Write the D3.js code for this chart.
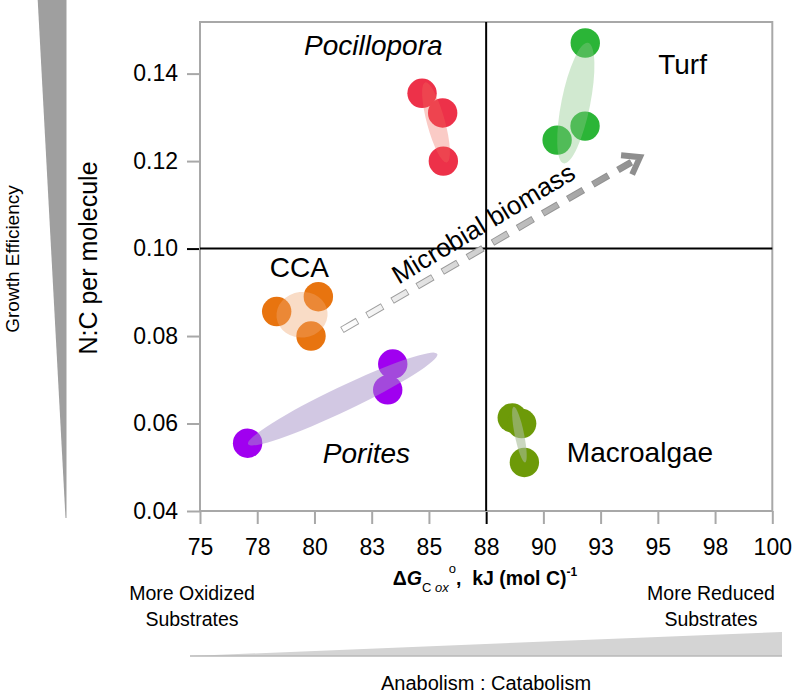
<!DOCTYPE html>
<html><head><meta charset="utf-8">
<script src="https://cdn.jsdelivr.net/npm/d3@7"></script>
<style>
body{margin:0;background:#fff}
text{font-family:"Liberation Sans",Arial,Helvetica,sans-serif;fill:#000}
</style>
</head><body>
<svg id="chart" width="794" height="695"></svg>
<script>
// ---------------- data ----------------
const groupNames  = ["Pocillopora", "Turf", "CCA", "Porites", "Macroalgae"];
const groupItalic = [true, false, false, true, false];
const groupX = [
  [84.70, 85.60, 85.63],
  [91.83, 91.82, 90.60],
  [78.35, 80.17, 79.85],
  [83.42, 83.20, 77.08],
  [88.64, 89.05, 89.17]
];
const groupY = [
  [0.1355, 0.1310, 0.1200],
  [0.1470, 0.1280, 0.1248],
  [0.0856, 0.0890, 0.0800],
  [0.0736, 0.0677, 0.0555],
  [0.0613, 0.0600, 0.0511]
];
const labelX = [82.57, 96.08, 79.34, 82.27, 94.22];
const labelY = [0.1442, 0.1400, 0.0936, 0.0509, 0.0513];
const pointColors   = ["#ed3149", "#2bb537", "#e8740f", "#a000f0", "#6d9a08"];
const ellipseColors = ["#f06a5c", "#8cc88a", "#f0a870", "#a592c8", "#a8bc98"];
const ellipseOpacity = [0.35, 0.4, 0.4, 0.5, 0.6];

const xTicks = [75, 77.5, 80, 82.5, 85, 87.5, 90, 92.5, 95, 97.5, 100];
const xTickLabels = ["75", "78", "80", "83", "85", "88", "90", "93", "95", "98", "100"];
const yTicks = [0.04, 0.06, 0.08, 0.10, 0.12, 0.14];
const yTickLabels = ["0.04", "0.06", "0.08", "0.10", "0.12", "0.14"];
const xDomain = [75, 100];
const yDomain = [0.04, 0.1518];
const xCross = 87.5, yCross = 0.10;

const arrowFrom = [81.20, 0.0814];
const arrowTo   = [94.22, 0.1209];
const arrowLabel = "Microbial biomass";
const arrowLabelPos = [87.58, 0.1040];

// ---------------- layout ----------------
const svg = d3.select("#chart");
const L = 200, R = 772.3, T = 22, B = 511;
const x = d3.scaleLinear().domain(xDomain).range([L, R]);
const y = d3.scaleLinear().domain(yDomain).range([B, T]);
const tickLen = 13;

// left wedge (Growth Efficiency)
svg.append("path").attr("d", "M37.7,0 L66.5,0 L66.5,518 L65.5,518 Z").attr("fill", "#9f9f9f");
svg.append("text").attr("transform", "translate(19,259) rotate(-90)")
  .attr("text-anchor", "middle").style("font-size", "19px").text("Growth Efficiency");

// bottom wedge (Anabolism : Catabolism)
svg.append("path").attr("d", "M190,656 L782,632 L782,656 Z").attr("fill", "#d4d4d4");
svg.append("line").attr("x1", 190).attr("x2", 782).attr("y1", 656).attr("y2", 656)
  .attr("stroke", "#b8b8b8").attr("stroke-width", 1.5);
svg.append("text").attr("x", 486).attr("y", 690).attr("text-anchor", "middle")
  .style("font-size", "20px").text("Anabolism : Catabolism");

// substrates
[["More Oxidized", "Substrates", 192], ["More Reduced", "Substrates", 711]].forEach(d => {
  const t = svg.append("text").attr("text-anchor", "middle").style("font-size", "19.5px");
  t.append("tspan").attr("x", d[2]).attr("y", 600).text(d[0]);
  t.append("tspan").attr("x", d[2]).attr("y", 626).text(d[1]);
});

// axes
const gx = svg.append("g").attr("transform", `translate(0,${B})`)
  .call(d3.axisBottom(x).tickValues(xTicks).tickFormat((d, i) => xTickLabels[i])
    .tickSize(tickLen).tickPadding(15));
const gy = svg.append("g").attr("transform", `translate(${L},0)`)
  .call(d3.axisLeft(y).tickValues(yTicks).tickFormat((d, i) => yTickLabels[i])
    .tickSize(tickLen).tickPadding(9));
[gx, gy].forEach(g => {
  g.select(".domain").remove();
  g.selectAll(".tick line").attr("stroke", "#a8a8a8").attr("stroke-width", 2);
  g.selectAll(".tick text").style("font-size", "23px").attr("fill", "#000");
});
gy.selectAll(".tick").filter(d => d === yCross).select("line").attr("stroke", "#000");
gx.selectAll(".tick").filter(d => d === xCross).select("line").attr("stroke", "#000");

// frame
svg.append("rect").attr("x", L).attr("y", T).attr("width", R - L).attr("height", B - T)
  .attr("fill", "none").attr("stroke", "#a8a8a8").attr("stroke-width", 2);

// quadrant lines
svg.append("line").attr("x1", x(xCross)).attr("x2", x(xCross)).attr("y1", T).attr("y2", B)
  .attr("stroke", "#000").attr("stroke-width", 2);
svg.append("line").attr("x1", L).attr("x2", R).attr("y1", y(yCross)).attr("y2", y(yCross))
  .attr("stroke", "#000").attr("stroke-width", 2);

// axis titles
svg.append("text").attr("transform", "translate(97,258) rotate(-90)")
  .attr("text-anchor", "middle").style("font-size", "25px").text("N:C per molecule");
const xt = svg.append("text").attr("x", 485).attr("y", 585).attr("text-anchor", "middle")
  .style("font-size", "19.5px").style("font-weight", "bold");
xt.append("tspan").text("Δ");
xt.append("tspan").style("font-style", "italic").text("G");
xt.append("tspan").attr("dy", 7).style("font-size", "13px").style("font-weight", "normal").text("C ");
xt.append("tspan").style("font-size", "13px").style("font-weight", "normal").style("font-style", "italic").text("ox");
xt.append("tspan").attr("dy", -19).style("font-size", "13px").style("font-weight", "normal").text("o");
xt.append("tspan").attr("dy", 12).text(",\u00a0\u00a0kJ (mol C)");
xt.append("tspan").attr("dy", -9).style("font-size", "12px").text("-1");

// microbial biomass arrow
const x0 = x(arrowFrom[0]), y0 = y(arrowFrom[1]), x1 = x(arrowTo[0]), y1 = y(arrowTo[1]);
const ang = Math.atan2(y1 - y0, x1 - x0);
const defs = svg.append("defs");
const gradOuter = defs.append("linearGradient").attr("id", "gOuter").attr("gradientUnits", "userSpaceOnUse")
  .attr("x1", x0).attr("y1", y0).attr("x2", x1).attr("y2", y1);
gradOuter.append("stop").attr("offset", 0).attr("stop-color", "#a0a0a0");
gradOuter.append("stop").attr("offset", 1).attr("stop-color", "#8e8e8e");
const gradInner = defs.append("linearGradient").attr("id", "gInner").attr("gradientUnits", "userSpaceOnUse")
  .attr("x1", x0).attr("y1", y0).attr("x2", x1).attr("y2", y1);
gradInner.append("stop").attr("offset", 0).attr("stop-color", "#ffffff");
gradInner.append("stop").attr("offset", 0.45).attr("stop-color", "#d0d0d0");
gradInner.append("stop").attr("offset", 1).attr("stop-color", "#8e8e8e");
const shaftEnd = [x1 - 10 * Math.cos(ang), y1 - 10 * Math.sin(ang)];
svg.append("line").attr("x1", x0).attr("y1", y0).attr("x2", shaftEnd[0]).attr("y2", shaftEnd[1])
  .attr("stroke", "url(#gOuter)").attr("stroke-width", 7).attr("stroke-dasharray", "18 11");
svg.append("line").attr("x1", x0 + 0.8 * Math.cos(ang)).attr("y1", y0 + 0.8 * Math.sin(ang))
  .attr("x2", shaftEnd[0]).attr("y2", shaftEnd[1])
  .attr("stroke", "url(#gInner)").attr("stroke-width", 5).attr("stroke-dasharray", "16.4 12.6");
const armLen = 19, armAng = 0.62;
const a1 = [x1 - armLen * Math.cos(ang - armAng), y1 - armLen * Math.sin(ang - armAng)];
const a2 = [x1 - armLen * Math.cos(ang + armAng), y1 - armLen * Math.sin(ang + armAng)];
svg.append("path").attr("d", `M${a1[0]},${a1[1]} L${x1},${y1} L${a2[0]},${a2[1]}`)
  .attr("fill", "none").attr("stroke", "#8e8e8e").attr("stroke-width", 6).attr("stroke-linejoin", "miter");
svg.append("text")
  .attr("transform", `translate(${x(arrowLabelPos[0])},${y(arrowLabelPos[1])}) rotate(${-31})`)
  .attr("text-anchor", "middle").style("font-size", "26px").text(arrowLabel);

// points and ellipses
const kSD = 1.15;
function ellipseOf(xs, ys) {
  const px = xs.map(v => x(v)), py = ys.map(v => y(v));
  const n = px.length, mx = d3.mean(px), my = d3.mean(py);
  let sxx = 0, syy = 0, sxy = 0;
  for (let i = 0; i < n; i++) {
    sxx += (px[i] - mx) ** 2; syy += (py[i] - my) ** 2; sxy += (px[i] - mx) * (py[i] - my);
  }
  sxx /= n - 1; syy /= n - 1; sxy /= n - 1;
  const tr = sxx + syy, det = sxx * syy - sxy * sxy;
  const disc = Math.sqrt(Math.max(0, tr * tr / 4 - det));
  const l1 = tr / 2 + disc, l2 = Math.max(tr / 2 - disc, 0);
  const theta = Math.atan2(l1 - sxx, sxy) * 180 / Math.PI;
  return {cx: mx, cy: my, rx: kSD * Math.sqrt(l1), ry: kSD * Math.sqrt(l2), theta};
}
groupNames.forEach((name, gi) => {
  const g = svg.append("g");
  g.selectAll("circle").data(groupX[gi].map((v, i) => [v, groupY[gi][i]])).join("circle")
    .attr("cx", d => x(d[0])).attr("cy", d => y(d[1])).attr("r", 14.7)
    .attr("fill", pointColors[gi]);
  const e = ellipseOf(groupX[gi], groupY[gi]);
  g.append("ellipse").attr("cx", 0).attr("cy", 0).attr("rx", e.rx).attr("ry", e.ry)
    .attr("transform", `translate(${e.cx},${e.cy}) rotate(${e.theta})`)
    .attr("fill", ellipseColors[gi]).attr("fill-opacity", ellipseOpacity[gi]);
  svg.append("text").attr("x", x(labelX[gi])).attr("y", y(labelY[gi]))
    .attr("text-anchor", "middle").style("font-size", "28px")
    .style("font-style", groupItalic[gi] ? "italic" : "normal").text(name);
});
</script>
</body></html>
